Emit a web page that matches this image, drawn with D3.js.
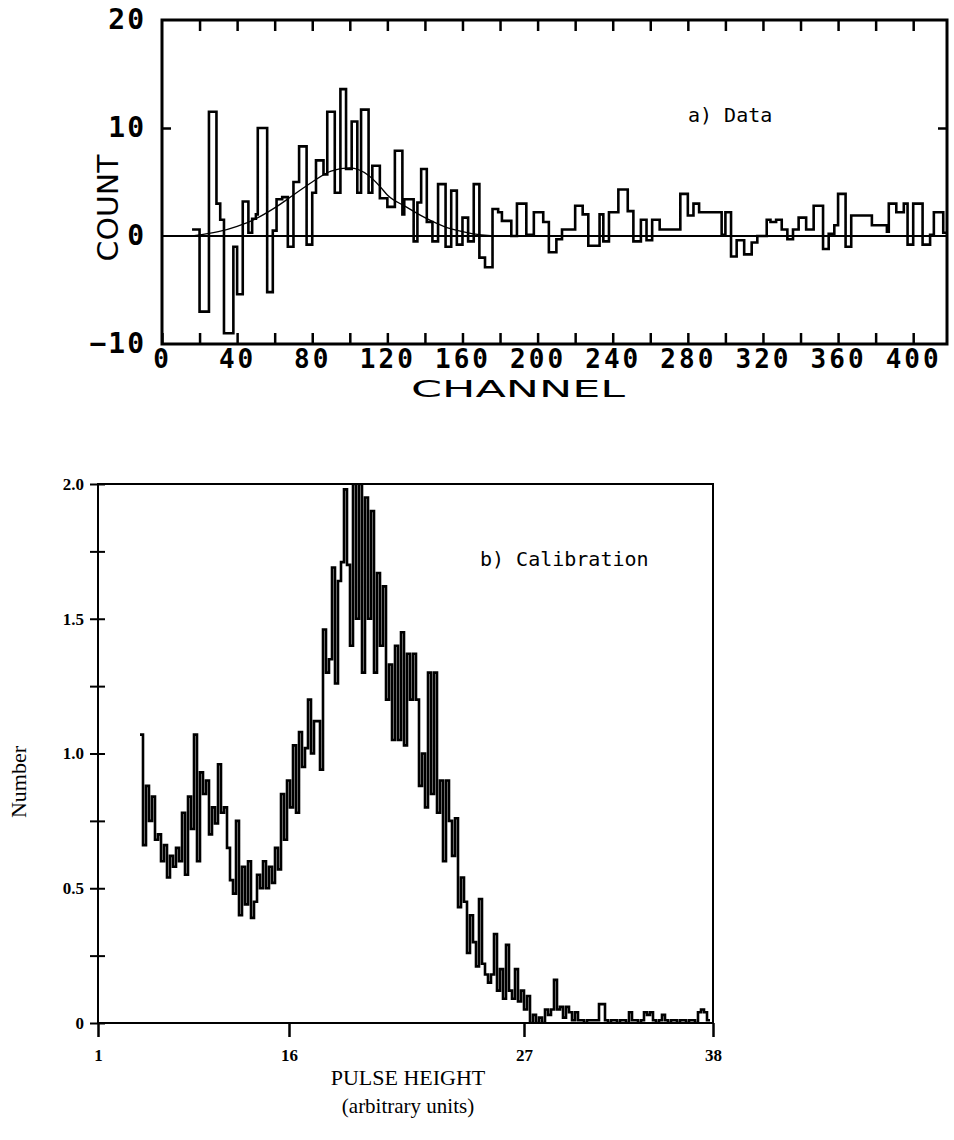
<!DOCTYPE html>
<html>
<head>
<meta charset="utf-8">
<script src="https://cdn.jsdelivr.net/npm/d3@7"></script>
<style>
body { margin: 0; background: #fff; }
</style>
</head>
<body>
<svg id="svg" width="954" height="1140"></svg>
<script>
// ---- panel a) data : step histogram, bin start channel + count
var dataStart = [16, 20, 25, 29, 31, 33, 38, 40, 43, 46, 48, 50, 51, 56, 59, 61, 64, 67, 70, 73,
  77, 80, 82, 86, 88, 92, 95, 98, 101, 104, 106, 110, 112, 116, 120, 124, 128, 129, 134, 136,
  138, 141, 144, 147, 151, 154, 157, 160, 163, 166, 169, 172, 176, 179, 181, 186, 189, 194, 198, 203,
  206, 210, 213, 220, 224, 227, 233, 235, 238, 243, 248, 251, 255, 258, 261, 265, 276, 280, 283, 286,
  298, 300, 303, 306, 310, 314, 317, 322, 324, 327, 330, 333, 336, 339, 343, 347, 352, 355, 358, 360,
  364, 367, 378, 386, 387, 391, 395, 397, 400, 405, 409, 411, 416];
var dataCount = [0.6, -7.0, 11.5, 3.0, 1.5, -9.0, -1.0, -5.4, 3.2, 0.3, 1.6, 2.0, 10.0, -5.2, 0.5, 3.4, 3.6, -1.0, 5.0, 8.3,
  -0.8, 4.0, 7.0, 5.7, 11.5, 4.0, 13.6, 6.2, 10.6, 4.0, 11.7, 4.0, 6.5, 3.5, 2.7, 7.9, 2.0, 3.4, -0.5, 3.1,
  6.2, 1.3, -0.5, 4.8, -1.0, 4.2, -0.8, 1.7, -0.5, 4.8, -2.0, -2.9, 2.5, 2.2, 1.4, 0.0, 3.0, 0.1, 2.2, 1.3,
  -1.5, -0.3, 0.6, 2.8, 2.0, -0.9, 2.0, -0.5, 2.2, 4.3, 2.3, -0.5, 1.5, -0.4, 1.5, 0.6, 3.9, 1.9, 3.0, 2.2,
  0.1, 2.2, -1.9, -0.4, -1.7, -0.6, 0.0, 1.5, 1.3, 1.5, 0.6, -0.3, 0.6, 1.7, 0.6, 2.8, -1.2, 0.2, 1.0, 3.9,
  -1.0, 1.9, 1.0, 0.4, 3.0, 2.2, 3.0, -0.8, 3.0, -0.8, 0.1, 2.2, 0.3];
var dataEnd = 418;

// smooth fitted curve through the data
var fitChannel = [16, 30, 40, 50, 60, 70, 80, 90, 100, 110, 116, 120, 130, 140, 150, 160, 170, 180, 418];
var fitCount = [0.0, 0.4, 0.9, 1.6, 2.6, 3.8, 5.0, 6.0, 6.3, 5.6, 4.6, 3.8, 2.7, 1.7, 0.9, 0.4, 0.1, 0.0, 0.0];

var chanTicks = [0, 20, 40, 60, 80, 100, 120, 140, 160, 180, 200, 220, 240, 260, 280, 300, 320, 340, 360, 380, 400];
var countTicks = [-10, 0, 10, 20];

// ---- panel b) calibration : equal bins starting at bin 14
var calStartBin = 14;
var calCount = [1.07, 0.66, 0.88, 0.75, 0.84, 0.68, 0.70, 0.60, 0.66, 0.54, 0.62, 0.58, 0.65, 0.60, 0.78, 0.55, 0.84, 0.72, 1.07, 0.60,
  0.93, 0.85, 0.90, 0.70, 0.80, 0.74, 0.96, 0.78, 0.80, 0.65, 0.53, 0.48, 0.75, 0.40, 0.58, 0.44, 0.60, 0.39, 0.45, 0.55,
  0.50, 0.60, 0.50, 0.58, 0.52, 0.65, 0.57, 0.85, 0.68, 0.90, 0.80, 1.03, 0.78, 1.08, 0.95, 1.02, 1.20, 1.00, 1.12, 1.12,
  0.94, 1.46, 1.30, 1.35, 1.69, 1.26, 1.64, 1.71, 1.98, 1.70, 1.40, 2.00, 1.50, 2.00, 1.30, 1.95, 1.50, 1.90, 1.30, 1.67,
  1.40, 1.62, 1.20, 1.33, 1.05, 1.40, 1.05, 1.45, 1.03, 1.37, 1.20, 1.37, 1.20, 0.88, 1.00, 0.80, 1.30, 0.85, 1.30, 0.78,
  0.90, 0.60, 0.90, 0.75, 0.62, 0.76, 0.43, 0.54, 0.45, 0.26, 0.40, 0.30, 0.21, 0.46, 0.22, 0.18, 0.15, 0.18, 0.33, 0.12,
  0.20, 0.09, 0.29, 0.12, 0.09, 0.20, 0.08, 0.12, 0.05, 0.10, 0.00, 0.03, 0.00, 0.02, 0.00, 0.05, 0.03, 0.05, 0.16, 0.05,
  0.06, 0.02, 0.06, 0.04, 0.01, 0.04, 0.01, 0.01, 0.00, 0.01, 0.01, 0.01, 0.01, 0.07, 0.07, 0.01, 0.00, 0.01, 0.01, 0.00,
  0.01, 0.01, 0.00, 0.04, 0.01, 0.01, 0.00, 0.01, 0.04, 0.03, 0.04, 0.01, 0.00, 0.01, 0.03, 0.01, 0.00, 0.01, 0.01, 0.00,
  0.01, 0.01, 0.00, 0.01, 0.01, 0.00, 0.04, 0.05, 0.04, 0.01];
var calBins = 205;

var phTicks = [1, 16, 27, 38];
var numTicks = [0, 0.25, 0.5, 0.75, 1.0, 1.25, 1.5, 1.75, 2.0];
var numLabels = {0: '0', 0.5: '0.5', 1: '1.0', 1.5: '1.5', 2: '2.0'};

var svg = d3.select('svg');

var plotter = '"DejaVu Sans Mono", monospace';
var serif = '"Liberation Serif", "DejaVu Serif", serif';

// ================= panel a =================
var xTop = d3.scaleLinear().domain([0, dataEnd]).range([162, 947]);
var yTop = d3.scaleLinear().domain([-10, 20]).range([344, 20]);

var gTop = svg.append('g');

gTop.append('clipPath').attr('id', 'clipTop')
  .append('rect')
  .attr('x', xTop(0)).attr('y', yTop(20))
  .attr('width', xTop(dataEnd) - xTop(0)).attr('height', yTop(-10) - yTop(20));

// zero line
gTop.append('line')
  .attr('x1', xTop(0)).attr('x2', xTop(dataEnd))
  .attr('y1', yTop(0)).attr('y2', yTop(0))
  .attr('stroke', '#000').attr('stroke-width', 2);

// fitted curve
var fitLine = d3.line()
  .x(function(d, i) { return xTop(fitChannel[i]); })
  .y(function(d) { return yTop(d); })
  .curve(d3.curveMonotoneX);
gTop.append('path')
  .attr('d', fitLine(fitCount))
  .attr('fill', 'none').attr('stroke', '#000').attr('stroke-width', 1.3);

// histogram
var topPts = dataStart.map(function(s, i) { return [s, dataCount[i]]; });
topPts.push([dataEnd, dataCount[dataCount.length - 1]]);
var stepTop = d3.line()
  .x(function(d) { return xTop(d[0]); })
  .y(function(d) { return yTop(d[1]); })
  .curve(d3.curveStepAfter);
gTop.append('path')
  .attr('clip-path', 'url(#clipTop)')
  .attr('d', stepTop(topPts))
  .attr('fill', 'none').attr('stroke', '#000').attr('stroke-width', 2.6)
  .attr('stroke-linejoin', 'miter');

// frame
gTop.append('rect')
  .attr('x', xTop(0)).attr('y', yTop(20))
  .attr('width', xTop(dataEnd) - xTop(0)).attr('height', yTop(-10) - yTop(20))
  .attr('fill', 'none').attr('stroke', '#000').attr('stroke-width', 3);

// bottom axis (ticks inward, labels every 40)
var xAxisTop = gTop.append('g')
  .attr('transform', 'translate(0,' + yTop(-10) + ')')
  .call(d3.axisBottom(xTop).tickValues(chanTicks).tickSizeInner(-11).tickSizeOuter(0).tickPadding(6)
    .tickFormat(function(d) { return d % 40 === 0 ? d : ''; }));
xAxisTop.select('.domain').remove();
xAxisTop.selectAll('line').attr('stroke-width', 2.5);
xAxisTop.selectAll('text')
  .attr('font-family', plotter).attr('font-weight', 'bold').attr('font-size', 26)
  .attr('letter-spacing', 3).attr('fill', '#000');

// top ticks
var x2AxisTop = gTop.append('g')
  .attr('transform', 'translate(0,' + yTop(20) + ')')
  .call(d3.axisTop(xTop).tickValues(chanTicks.slice(1)).tickSizeInner(-11).tickSizeOuter(0).tickFormat(''));
x2AxisTop.select('.domain').remove();
x2AxisTop.selectAll('line').attr('stroke-width', 2.5);

// left axis
var yAxisTop = gTop.append('g')
  .attr('transform', 'translate(' + xTop(0) + ',0)')
  .call(d3.axisLeft(yTop).tickValues(countTicks).tickSizeInner(0).tickSizeOuter(0).tickPadding(16));
yAxisTop.select('.domain').remove();
yAxisTop.selectAll('text')
  .attr('font-family', plotter).attr('font-weight', 'bold').attr('font-size', 28)
  .attr('letter-spacing', 2).attr('fill', '#000');
gTop.append('g')
  .attr('transform', 'translate(' + xTop(0) + ',0)')
  .call(d3.axisLeft(yTop).tickValues([10]).tickSizeInner(-9).tickSizeOuter(0).tickFormat(''))
  .call(function(g) { g.select('.domain').remove(); g.selectAll('line').attr('stroke-width', 2.5); });
gTop.append('g')
  .attr('transform', 'translate(' + xTop(dataEnd) + ',0)')
  .call(d3.axisRight(yTop).tickValues([10]).tickSizeInner(-9).tickSizeOuter(0).tickFormat(''))
  .call(function(g) { g.select('.domain').remove(); g.selectAll('line').attr('stroke-width', 2.5); });

gTop.append('text')
  .attr('transform', 'translate(118,' + 208 + ') rotate(-90)')
  .attr('text-anchor', 'middle')
  .attr('font-family', '"DejaVu Sans", sans-serif').attr('font-size', 28)
  .attr('textLength', 107).attr('lengthAdjust', 'spacingAndGlyphs')
  .text('COUNT');

gTop.append('text')
  .attr('x', 518).attr('y', 397)
  .attr('text-anchor', 'middle')
  .attr('font-family', '"DejaVu Sans", sans-serif').attr('font-size', 23)
  .attr('textLength', 214).attr('lengthAdjust', 'spacingAndGlyphs')
  .text('CHANNEL');

gTop.append('text')
  .attr('x', 688).attr('y', 122)
  .attr('font-family', plotter).attr('font-size', 20)
  .text('a) Data');

// ================= panel b =================
var xBin = d3.scaleLinear().domain([0, calBins]).range([98, 713]);
var xPH = d3.scaleLinear().domain(phTicks).range([98, 289, 524, 713]);
var yBot = d3.scaleLinear().domain([0, 2]).range([1023, 484]);

var gBot = svg.append('g');

gBot.append('clipPath').attr('id', 'clipBot')
  .append('rect')
  .attr('x', xBin(0)).attr('y', yBot(2))
  .attr('width', xBin(calBins) - xBin(0)).attr('height', yBot(0) - yBot(2));

var botPts = calCount.map(function(v, i) { return [calStartBin + i, v]; });
botPts.push([calStartBin + calCount.length, calCount[calCount.length - 1]]);
var stepBot = d3.line()
  .x(function(d) { return xBin(d[0]); })
  .y(function(d) { return yBot(d[1]); })
  .curve(d3.curveStepAfter);
gBot.append('path')
  .attr('clip-path', 'url(#clipBot)')
  .attr('d', stepBot(botPts))
  .attr('fill', 'none').attr('stroke', '#000').attr('stroke-width', 2.6);

gBot.append('rect')
  .attr('x', xBin(0)).attr('y', yBot(2))
  .attr('width', xBin(calBins) - xBin(0)).attr('height', yBot(0) - yBot(2))
  .attr('fill', 'none').attr('stroke', '#000').attr('stroke-width', 2);

var xAxisBot = gBot.append('g')
  .attr('transform', 'translate(0,' + yBot(0) + ')')
  .call(d3.axisBottom(xPH).tickValues(phTicks).tickSizeInner(14).tickSizeOuter(0).tickPadding(12)
    .tickFormat(d3.format('d')));
xAxisBot.select('.domain').remove();
xAxisBot.selectAll('line').attr('stroke-width', 2.5);
xAxisBot.selectAll('text')
  .attr('font-family', serif).attr('font-weight', 'bold').attr('font-size', 17).attr('fill', '#000');

var yAxisBot = gBot.append('g')
  .attr('transform', 'translate(' + xBin(0) + ',0)')
  .call(d3.axisLeft(yBot).tickValues(numTicks).tickSizeInner(8).tickSizeOuter(0).tickPadding(6)
    .tickFormat(function(d) { return numLabels[d] || ''; }));
yAxisBot.select('.domain').remove();
yAxisBot.selectAll('.tick line').attr('stroke-width', 2);
yAxisBot.selectAll('.tick').append('line')
  .attr('x1', 0).attr('x2', 7).attr('stroke', '#000').attr('stroke-width', 2);
yAxisBot.selectAll('text')
  .attr('font-family', serif).attr('font-weight', 'bold').attr('font-size', 17).attr('fill', '#000');

gBot.append('text')
  .attr('transform', 'translate(26,782) rotate(-90)')
  .attr('text-anchor', 'middle')
  .attr('font-family', serif).attr('font-size', 22)
  .text('Number');

gBot.append('text')
  .attr('x', 408).attr('y', 1085)
  .attr('text-anchor', 'middle')
  .attr('font-family', serif).attr('font-size', 22)
  .text('PULSE HEIGHT');

gBot.append('text')
  .attr('x', 408).attr('y', 1113)
  .attr('text-anchor', 'middle')
  .attr('font-family', serif).attr('font-size', 21)
  .text('(arbitrary units)');

gBot.append('text')
  .attr('x', 480).attr('y', 566)
  .attr('font-family', plotter).attr('font-size', 20)
  .text('b) Calibration');
</script>
</body>
</html>
